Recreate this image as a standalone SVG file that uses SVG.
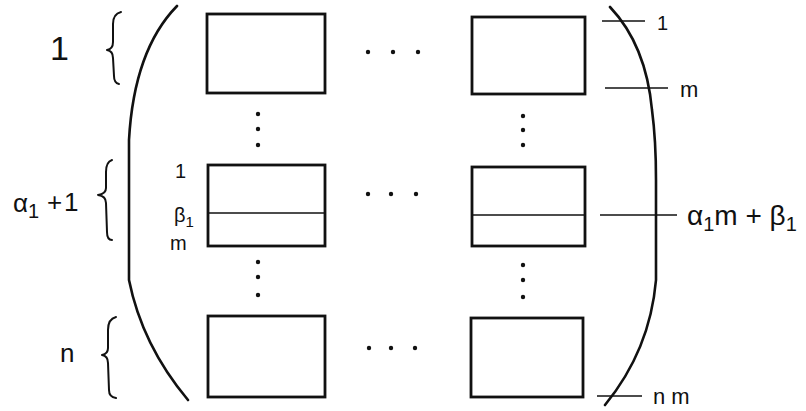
<svg xmlns="http://www.w3.org/2000/svg" width="806" height="411" viewBox="0 0 806 411">
<style>
.box{fill:none;stroke:#111;stroke-width:2.8}
.line{fill:none;stroke:#111;stroke-width:1.5}
.paren{fill:none;stroke:#111;stroke-width:2.6;stroke-linecap:round}
.brace{fill:none;stroke:#111;stroke-width:2;stroke-linecap:round;stroke-linejoin:round}
.dot{fill:#111}
text{font-family:"Liberation Sans","DejaVu Sans",sans-serif;fill:#111}
.big{font-size:34px}
.lbl{font-size:26px}
.sm{font-size:20px}
</style>
<rect width="806" height="411" fill="#fff"/>

<!-- matrix parentheses -->
<g id="parens">
<path class="paren" d="M177,6 Q134,50 129,140 L129,280 Q142,345 188,400"/>
<path class="paren" d="M610,7 Q646,45 652,110 Q656,140 656,180 L656,280 Q650,350 605,405"/>
</g>

<!-- blocks -->
<g id="block-1-1"><rect class="box" x="207" y="14" width="118" height="79"/></g>
<g id="block-1-m"><rect class="box" x="472" y="17" width="113" height="77"/></g>
<g id="block-a-1"><rect class="box" x="208" y="165" width="117" height="81"/><line class="line" x1="208" y1="213" x2="325" y2="213"/></g>
<g id="block-a-m"><rect class="box" x="472" y="167" width="113" height="79"/><line class="line" x1="472" y1="215" x2="585" y2="215"/></g>
<g id="block-n-1"><rect class="box" x="208" y="316" width="117" height="81"/></g>
<g id="block-n-m"><rect class="box" x="471" y="318" width="112" height="79"/></g>

<!-- ellipses -->
<g id="dots">
<circle class="dot" cx="368" cy="52" r="2.2"/><circle class="dot" cx="393" cy="52" r="2.2"/><circle class="dot" cx="418" cy="52" r="2.2"/>
<circle class="dot" cx="368" cy="194" r="2.2"/><circle class="dot" cx="391" cy="194" r="2.2"/><circle class="dot" cx="416" cy="194" r="2.2"/>
<circle class="dot" cx="369" cy="348" r="2.2"/><circle class="dot" cx="391" cy="348" r="2.2"/><circle class="dot" cx="415" cy="348" r="2.2"/>
<circle class="dot" cx="258" cy="114" r="2.2"/><circle class="dot" cx="258" cy="129" r="2.2"/><circle class="dot" cx="258" cy="145" r="2.2"/>
<circle class="dot" cx="258" cy="262" r="2.2"/><circle class="dot" cx="258" cy="277" r="2.2"/><circle class="dot" cx="258" cy="295" r="2.2"/>
<circle class="dot" cx="523" cy="116" r="2.2"/><circle class="dot" cx="523" cy="130" r="2.2"/><circle class="dot" cx="523" cy="145" r="2.2"/>
<circle class="dot" cx="523" cy="265" r="2.2"/><circle class="dot" cx="523" cy="280" r="2.2"/><circle class="dot" cx="523" cy="297" r="2.2"/>
</g>

<!-- braces and left labels -->
<g id="row-1">
<path class="brace" d="M121,12 Q113,14 113,24 L113,42 Q113,49 107,50 Q113,51 113,58 L114,76 Q114,83 119,84"/>
<text class="big" x="50" y="60">1</text>
</g>
<g id="row-alpha">
<path class="brace" d="M112,160 Q106,162 106,172 L106,188 Q106,194 98,195 Q106,196 106,203 L107,232 Q107,240 112,240"/>
<text class="lbl" x="13" y="212">α<tspan class="sm" x="28" dy="6">1</tspan><tspan x="47" dy="-7">+</tspan><tspan x="64">1</tspan></text>
<text class="sm" x="175" y="178">1</text>
<text class="sm" x="174" y="222">β<tspan font-size="15" dy="5">1</tspan></text>
<text class="sm" x="170" y="250">m</text>
</g>
<g id="row-n">
<path class="brace" d="M116,317 Q108,319 108,330 L108,348 Q108,354 102,355 Q108,356 108,363 L109,390 Q109,397 116,398"/>
<text class="lbl" x="60" y="362">n</text>
</g>

<!-- index ticks on the right -->
<g id="connectors">
<line class="line" x1="602" y1="21" x2="645" y2="21"/>
<line class="line" x1="605" y1="88" x2="668" y2="88"/>
<line class="line" x1="600" y1="215" x2="677" y2="215"/>
<line class="line" x1="597" y1="396" x2="642" y2="396"/>
</g>
<g id="index-labels">
<text class="sm" x="657" y="30">1</text>
<text font-size="22" x="680" y="97">m</text>
<text font-size="28" x="687" y="225">α<tspan font-size="20" dy="6">1</tspan><tspan dy="-6">m + β</tspan><tspan font-size="20" dy="6">1</tspan></text>
<text font-size="22" x="653" y="404">n m</text>
</g>
</svg>
